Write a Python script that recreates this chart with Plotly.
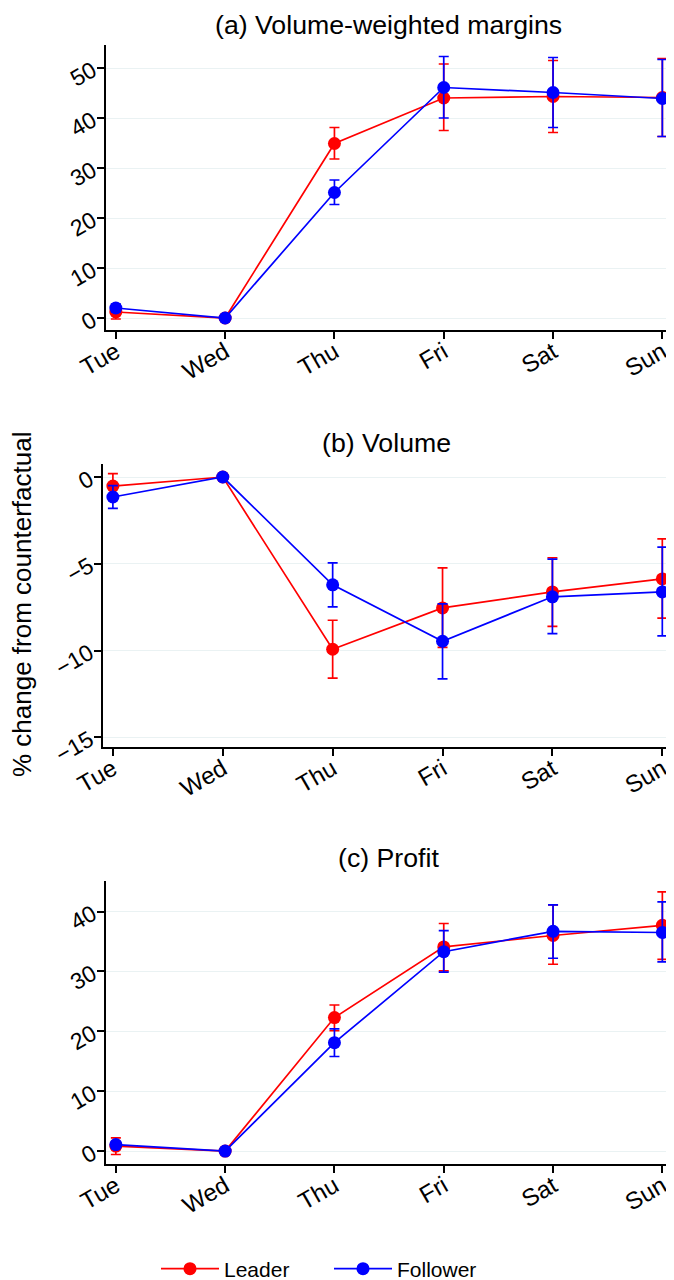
import plotly.graph_objects as go

days = ["Tue", "Wed", "Thu", "Fri", "Sat", "Sun"]

# (a) Volume-weighted margins
a_leader = [1.2, 0.0, 34.9, 44.0, 44.3, 44.1]
a_leader_hi = [2.6, 0.0, 38.1, 50.8, 51.5, 51.9]
a_leader_lo = [-0.2, 0.0, 31.8, 37.5, 37.1, 36.3]
a_follower = [2.0, 0.0, 25.1, 46.1, 45.1, 43.9]
a_follower_hi = [2.8, 0.0, 27.6, 52.3, 52.1, 51.7]
a_follower_lo = [1.2, 0.0, 22.7, 40.0, 38.1, 36.3]

# (b) Volume
b_leader = [-0.52, 0.0, -9.92, -7.54, -6.62, -5.87]
b_leader_hi = [0.19, 0.0, -8.25, -5.23, -4.65, -3.56]
b_leader_lo = [-1.2, 0.0, -11.58, -9.81, -8.6, -8.13]
b_follower = [-1.15, 0.0, -6.21, -9.46, -6.9, -6.62]
b_follower_hi = [-0.5, 0.0, -4.94, -7.31, -4.73, -4.04]
b_follower_lo = [-1.81, 0.0, -7.48, -11.63, -9.02, -9.15]

# (c) Profit
c_leader = [0.84, 0.0, 22.3, 34.1, 36.0, 37.7]
c_leader_hi = [2.2, 0.0, 24.4, 38.0, 41.1, 43.3]
c_leader_lo = [-0.56, 0.0, 20.1, 30.1, 31.2, 32.0]
c_follower = [1.1, 0.0, 18.1, 33.3, 36.7, 36.5]
c_follower_hi = [1.6, 0.0, 20.4, 36.8, 41.1, 41.6]
c_follower_lo = [0.45, 0.0, 15.8, 29.9, 32.2, 31.6]

panel_titles = ["(a) Volume-weighted margins", "(b) Volume", "(c) Profit"]
y_title = "% change from counterfactual"
series_names = ["Leader", "Follower"]
colors = ["#ff0000", "#0000ff"]

panels = [
    [(a_leader, a_leader_hi, a_leader_lo), (a_follower, a_follower_hi, a_follower_lo)],
    [(b_leader, b_leader_hi, b_leader_lo), (b_follower, b_follower_hi, b_follower_lo)],
    [(c_leader, c_leader_hi, c_leader_lo), (c_follower, c_follower_hi, c_follower_lo)],
]

fig = go.Figure()
for p, series in enumerate(panels):
    for s, (vals, hi, lo) in enumerate(series):
        fig.add_trace(go.Scatter(
            x=days, y=vals,
            mode="lines+markers",
            name=series_names[s],
            legendgroup=series_names[s],
            showlegend=(p == 0),
            line=dict(color=colors[s], width=1.7),
            marker=dict(color=colors[s], size=13),
            error_y=dict(
                type="data", symmetric=False,
                array=[h - v for h, v in zip(hi, vals)],
                arrayminus=[v - l for v, l in zip(vals, lo)],
                color=colors[s], thickness=1.7, width=5,
            ),
            xaxis="x" if p == 0 else f"x{p+1}",
            yaxis="y" if p == 0 else f"y{p+1}",
        ))

# page has an 8px body margin; figure placed at (8, 8)
OFF = 8
W, H = 666, 1272
def px_x(a, b):
    return [(a - OFF) / W, (b - OFF) / W]
def px_y(top, bottom):
    return [1 - (bottom - OFF) / H, 1 - (top - OFF) / H]
def pxx(a):
    return (a - OFF) / W
def pxy(b):
    return 1 - (b - OFF) / H

font_family = "Liberation Sans, Arial, sans-serif"
xtick_font = dict(family=font_family, size=24, color="black")
ytick_font = dict(family=font_family, size=23, color="black")
grid_color = "#eaf2f3"

x_domains = [px_x(106, 670), px_x(103, 670), px_x(106, 670)]
y_domains = [px_y(45, 330), px_y(464, 747), px_y(881, 1164)]
y_ranges = [[-2.4, 54.6], [-15.55, 0.75], [-2.15, 45.1]]
y_ticks = [[0, 10, 20, 30, 40, 50], [0, -5, -10, -15], [0, 10, 20, 30, 40]]
title_y = [25, 443, 858]

layout = dict(
    width=W, height=H,
    margin=dict(l=0, r=0, t=0, b=0, autoexpand=False),
    paper_bgcolor="white", plot_bgcolor="white",
    font=dict(family=font_family, color="black"),
    showlegend=True,
    legend=dict(orientation="h", x=pxx(329), xanchor="center", y=pxy(1269), yanchor="middle",
                font=dict(family=font_family, size=21, color="black"),
                itemwidth=58, entrywidth=100, tracegroupgap=0),
)
annotations = []
for p in range(3):
    xk = "xaxis" if p == 0 else f"xaxis{p+1}"
    yk = "yaxis" if p == 0 else f"yaxis{p+1}"
    yref = "y" if p == 0 else f"y{p+1}"
    xref = "x" if p == 0 else f"x{p+1}"
    layout[xk] = dict(
        domain=x_domains[p], anchor=yref, type="category",
        range=[-0.09, 5.07], automargin=False,
        showline=True, linecolor="black", linewidth=1.5,
        ticks="outside", ticklen=7, tickcolor="black", tickwidth=1.5,
        tickangle=-30, tickfont=xtick_font, ticklabelstandoff=-10,
        showgrid=False, zeroline=False,
    )
    layout[yk] = dict(
        domain=y_domains[p], anchor=xref, automargin=False,
        range=y_ranges[p], tickvals=y_ticks[p],
        showline=True, linecolor="black", linewidth=1.5,
        ticks="outside", ticklen=7, tickcolor="black", tickwidth=1.5,
        tickangle=-30, tickfont=ytick_font,
        showgrid=True, gridcolor=grid_color, gridwidth=1.2, zeroline=False,
    )
    annotations.append(dict(
        text=panel_titles[p], xref="paper", yref="paper",
        x=sum(x_domains[p]) / 2, y=pxy(title_y[p]),
        xanchor="center", yanchor="middle", showarrow=False,
        font=dict(family=font_family, size=26.7, color="black"),
    ))
annotations.append(dict(
    text=y_title, xref="paper", yref="paper",
    x=pxx(22), y=pxy(605), xanchor="center", yanchor="middle",
    textangle=-90, showarrow=False,
    font=dict(family=font_family, size=26, color="black"),
))
layout["annotations"] = annotations
fig.update_layout(**layout)
fig.write_html("out.html")
